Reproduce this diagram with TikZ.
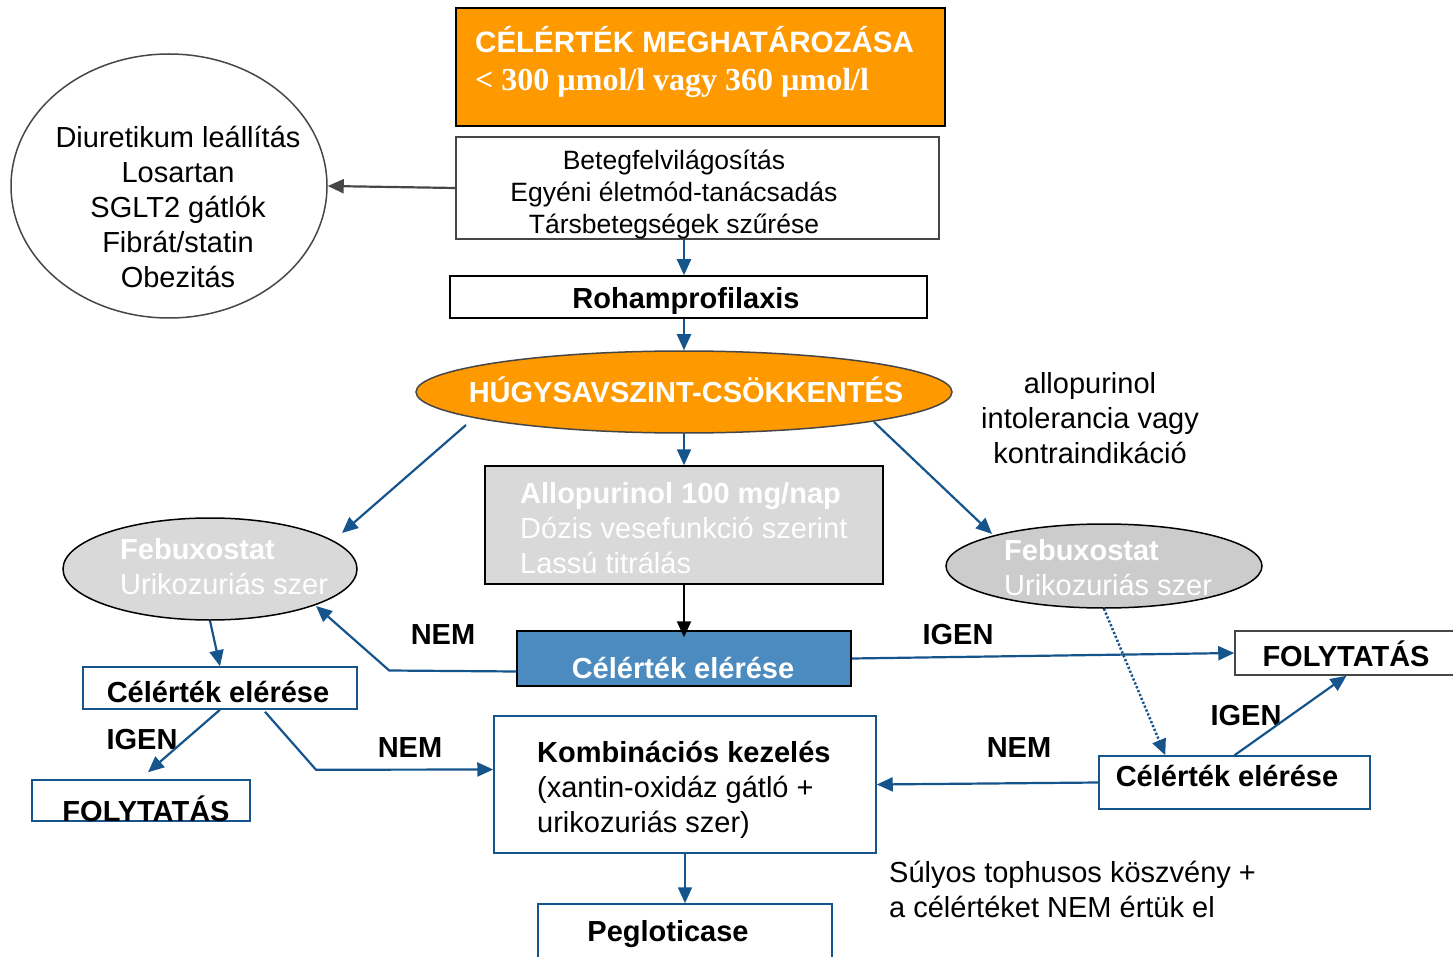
\documentclass[tikz,border=0pt]{standalone}
\usepackage{fontspec}
\setmainfont{Liberation Sans}
\newfontfamily\timesfont{Liberation Serif}
\usetikzlibrary{shapes.geometric,arrows.meta,calc}
\definecolor{cblue}{RGB}{22,84,140}
\definecolor{corange}{RGB}{255,153,0}
\definecolor{lgray}{RGB}{217,217,217}
\definecolor{mgray}{RGB}{204,204,204}
\definecolor{boxblue}{RGB}{76,139,191}
\definecolor{dgray}{RGB}{70,70,70}
\begin{document}
\begin{tikzpicture}[x=1pt,y=-1pt,
  big/.style={font=\fontsize{29}{35}\selectfont},
  bigb/.style={font=\fontsize{29}{35}\selectfont\bfseries},
  mid/.style={font=\fontsize{26.5}{32}\selectfont},
  txt/.style={inner sep=0pt, align=center},
  rectbox/.style={draw, rectangle, inner sep=0pt, line width=1.5pt},
  ell/.style={draw, ellipse, inner sep=0pt, line width=1.5pt},
  conn/.style={draw=cblue, line width=2.2pt, -{Triangle[length=16pt,width=14pt]}},
]
\useasboundingbox (0,0) rectangle (1453,957);

% boxes and shapes
\node[rectbox, fill=corange, minimum width=489pt, minimum height=118pt] (title) at (700.5,67) {};
\node[txt, text=white, anchor=base west, font=\fontsize{29.5}{35}\selectfont\bfseries] (t1) at (475,53) {CÉLÉRTÉK MEGHATÁROZÁSA};
\node[txt, text=white, anchor=base west, font=\fontsize{32}{35}\selectfont\timesfont\bfseries] (t2) at (475,91) {< 300 µmol/l vagy 360 µmol/l};

\node[rectbox, draw=dgray, fill=white, minimum width=483pt, minimum height=102pt] (box2) at (697.5,188) {};
\node[txt, mid] (box2t) at (674,194) {Betegfelvilágosítás\\Egyéni életmód-tanácsadás\\Társbetegségek szűrése};

\node[ell, draw=dgray, minimum width=316pt, minimum height=264pt] (diu) at (169,186) {};
\node[txt, big] (diut) at (178,207) {Diuretikum leállítás\\Losartan\\SGLT2 gátlók\\Fibrát/statin\\Obezitás};

\node[rectbox, minimum width=477pt, minimum height=42pt] (roham) at (688.5,297) {};
\node[txt, bigb] (rohamt) at (686,301) {Rohamprofilaxis};

\node[ell, draw=dgray, fill=corange, minimum width=536pt, minimum height=82pt] (hug) at (684,392) {};
\node[txt, bigb, text=white] (hugt) at (686,390) {HÚGYSAVSZINT-CSÖKKENTÉS};

\node[txt, big] (intol) at (1090,418) {allopurinol\\intolerancia vagy\\kontraindikáció};

\node[rectbox, fill=lgray, minimum width=398pt, minimum height=118pt] (allo) at (684,525) {};
\node[txt, big, text=white, anchor=west, align=left] (allot) at (520,528) {\textbf{Allopurinol 100 mg/nap}\\Dózis vesefunkció szerint\\Lassú titrálás};

\node[rectbox, fill=boxblue, minimum width=334pt, minimum height=55pt] (goal) at (684,658.5) {};
\node[txt, bigb, text=white] (goalt) at (683,668) {Célérték elérése};

\node[ell, fill=lgray, minimum width=294pt, minimum height=102pt] (febL) at (210,569) {};
\node[txt, big, text=white, anchor=west, align=left] (febLt) at (120,567) {\textbf{Febuxostat}\\Urikozuriás szer};

\node[ell, fill=mgray, minimum width=316pt, minimum height=84pt] (febR) at (1104,566) {};
\node[txt, big, text=white, anchor=west, align=left] (febRt) at (1004,568) {\textbf{Febuxostat}\\Urikozuriás szer};

\node[rectbox, draw=cblue, minimum width=274pt, minimum height=42pt] (celL) at (220,688) {};
\node[txt, bigb] (celLt) at (218,692) {Célérték elérése};

\node[rectbox, draw=dgray, minimum width=223pt, minimum height=44pt] (folR) at (1346.5,653) {};
\node[txt, bigb] (folRt) at (1346,654) {FOLYTATÁS};

\node[rectbox, draw=cblue, minimum width=218pt, minimum height=41pt] (folL) at (141,800.5) {};
\node[txt, bigb, anchor=base] (folLt) at (146,821) {FOLYTATÁS};

\node[rectbox, draw=cblue, minimum width=382pt, minimum height=137pt] (komb) at (685,784.5) {};
\node[txt, big, anchor=west, align=left] (kombt) at (537,790) {\textbf{Kombinációs kezelés}\\(xantin-oxidáz gátló +\\urikozuriás szer)};

\node[rectbox, draw=cblue, minimum width=294pt, minimum height=62pt] (peg) at (685,935) {};
\node[txt, bigb] (pegt) at (668,934) {Pegloticase};

\node[rectbox, draw=cblue, minimum width=271pt, minimum height=53pt] (celR) at (1234.5,782.5) {};
\node[txt, bigb] (celRt) at (1227,776) {Célérték elérése};

\node[txt, big, anchor=west, align=left] (sulyos) at (889,889) {Súlyos tophusos köszvény +\\a célértéket NEM értük el};

% labels
\node[txt, bigb] (l1) at (443,635) {NEM};
\node[txt, bigb] (l2) at (958,635) {IGEN};
\node[txt, bigb] (l3) at (142,740) {IGEN};
\node[txt, bigb] (l4) at (410,748) {NEM};
\node[txt, bigb] (l5) at (1019,748) {NEM};
\node[txt, bigb] (l6) at (1246,716) {IGEN};

% connectors
\draw[conn, draw=dgray] (box2.west) -- (diu.east);
\draw[conn] (hug.center |- box2.south) -- (hug.center |- roham.north);
\draw[conn] (hug.center |- roham.south) -- (hug.north);
\draw[conn] (hug.south) -- (allo.north);
\draw[conn, draw=black] (allo.south) -- ($(goal.north)+(0,7)$);
\draw[conn] ($(hug.center)+(-218,33)$) -- ($(febL.center)+(132,-36)$);
\draw[conn] ($(hug.center)+(190,30)$) -- ($(febR.center)+(-112,-32)$);
\draw[conn] (febL.south) -- (celL.north);
\draw[conn] ($(goal.west)+(0,13)$) -- ($(goal.west)+(-127,12)$) -- ($(febL.center)+(106,37)$);
\draw[conn] (goal.east) -- (folR.west);
\draw[conn] (celL.south) -- ($(folL.north)+(7,-7)$);
\draw[conn] ($(celL.south)+(45,2)$) -- ($(celL.south)+(96,60)$) -- ($(komb.west)+(0,-15)$);
\draw[conn] (komb.south) -- (peg.north);
\draw[conn] (celR.west) -- (komb.east);
\draw[conn] (celR.north) -- (folR.south);
\draw[conn, dotted, line width=2.5pt] (febR.south) -- ($(celR.north west)+(67,0)$);
\end{tikzpicture}
\end{document}
